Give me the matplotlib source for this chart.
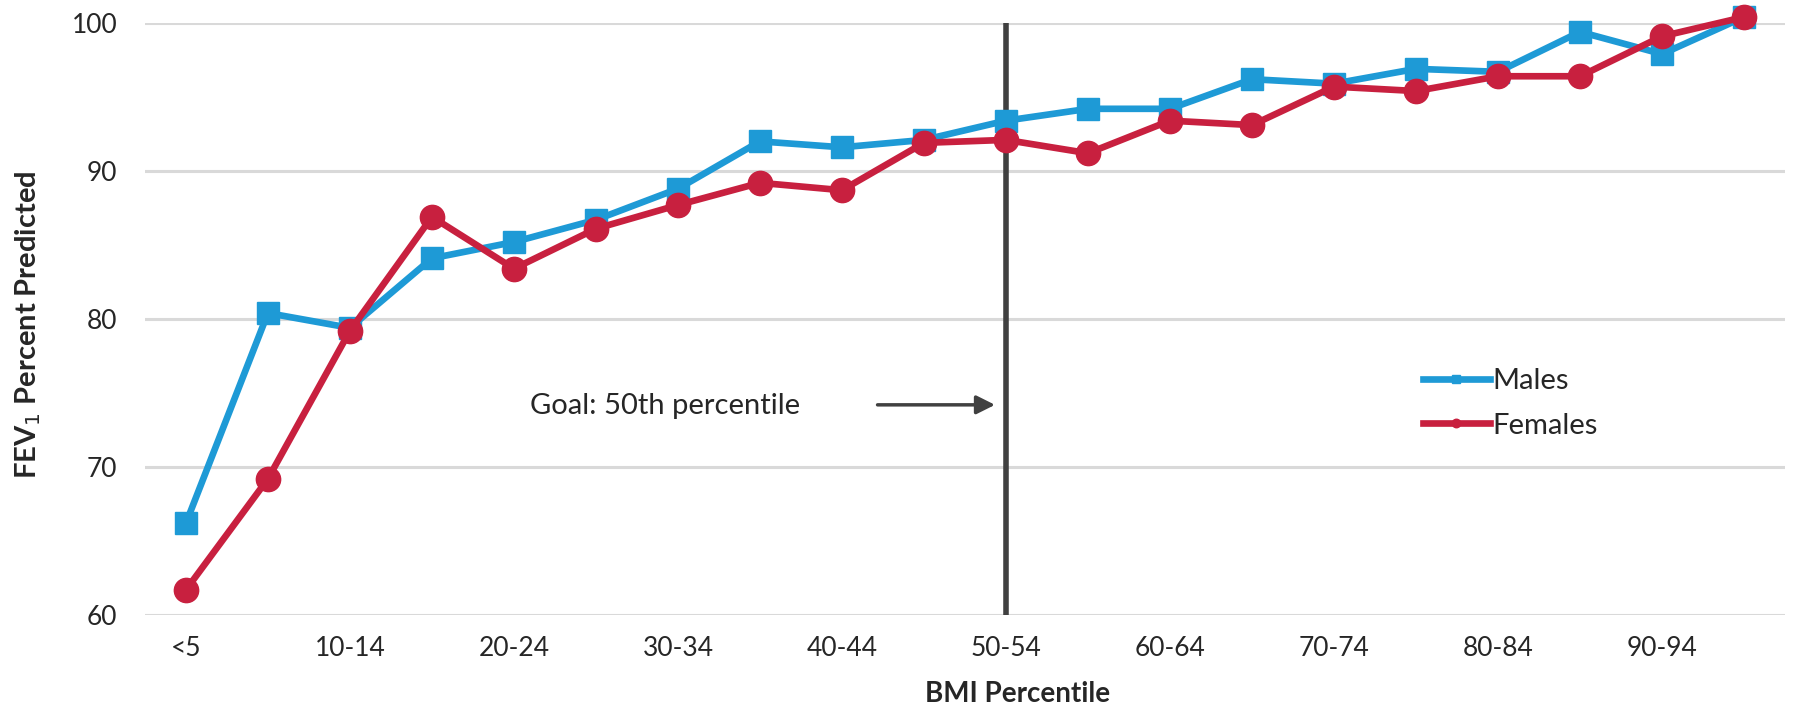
import numpy as np
import matplotlib
matplotlib.use("Agg")
import matplotlib.pyplot as plt

plt.rcParams['font.family'] = ['Lato', 'DejaVu Sans']

# categorias de percentil de IMC
categorias = ["<5", "5-9", "10-14", "15-19", "20-24", "25-29", "30-34", "35-39",
              "40-44", "45-49", "50-54", "55-59", "60-64", "65-69", "70-74",
              "75-79", "80-84", "85-89", "90-94", "95-99"]

# FEV1 % predicho
hombres = [66.2, 80.4, 79.4, 84.1, 85.2, 86.7, 88.8, 92.0, 91.6, 92.1,
           93.4, 94.2, 94.2, 96.2, 95.9, 96.9, 96.7, 99.4, 97.9, 100.4]
mujeres = [61.7, 69.2, 79.2, 86.9, 83.4, 86.1, 87.7, 89.2, 88.7, 91.9,
           92.1, 91.2, 93.4, 93.1, 95.7, 95.4, 96.4, 96.4, 99.1, 100.4]

yticks = [60, 70, 80, 90, 100]
meta = "50-54"

azul = "#1E9AD6"
rojo = "#C8203F"
gris = "#404040"
texto = "#262626"

x = np.arange(len(categorias))

fig = plt.figure(figsize=(17.98, 7.11), dpi=100)
ax = fig.add_axes([0.0806, 0.135, 0.9122, 0.8327])

for yv in yticks:
    ax.axhline(yv, color="#D9D9D9", lw=2.2, zorder=0)

ax.axvline(categorias.index(meta), ymin=0, ymax=1, color=gris, lw=4, zorder=1)

ax.plot(x, hombres, color=azul, lw=4.8, marker="s", ms=16.5, label="Males",
        zorder=3, clip_on=False)
ax.plot(x, mujeres, color=rojo, lw=4.8, marker="o", ms=17.5, label="Females",
        zorder=4, clip_on=False)

ax.annotate("", xy=(9.9, 74.2), xytext=(8.4, 74.2),
            arrowprops=dict(arrowstyle="-|>", color=gris, lw=2.5,
                            mutation_scale=28))
ax.text(4.2, 74.1, "Goal: 50th percentile", fontsize=21, color=texto,
        va="center", ha="left")

ax.set_xlim(-0.5, 19.5)
ax.set_ylim(60, 100)
ax.set_yticks(yticks)
ax.set_xticks(x[::2])
ax.set_xticklabels(categorias[::2])
ax.tick_params(axis="both", length=0, labelsize=19, colors=texto)
ax.tick_params(axis="y", pad=20)
ax.tick_params(axis="x", pad=15)
for s in ax.spines.values():
    s.set_visible(False)

ax.set_xlabel("BMI Percentile", fontsize=20, fontweight="bold", color=texto)
ax.xaxis.set_label_coords(0.532, -0.112)
ax.set_ylabel("FEV$_1$ Percent Predicted", fontsize=21, fontweight="bold",
              color=texto)
ax.yaxis.set_label_coords(-0.062, 0.49)

leg = ax.legend(loc="upper left", bbox_to_anchor=(0.763, 0.462), frameon=False,
                fontsize=21, handlelength=2.3, handletextpad=0.1,
                labelspacing=0.65, markerscale=0.35)
for t in leg.get_texts():
    t.set_color(texto)

fig.savefig("out.png", dpi=100)
